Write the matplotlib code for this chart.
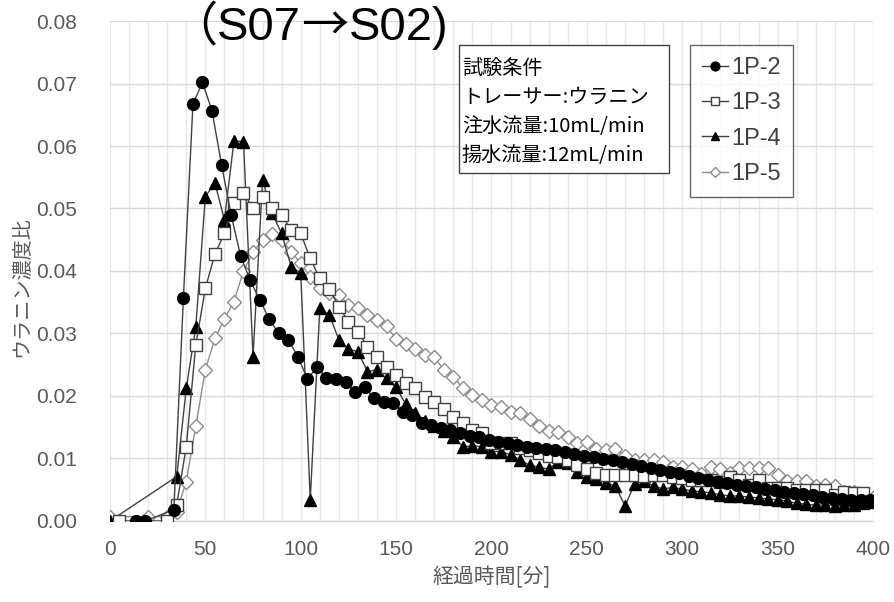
import numpy as np
import matplotlib
matplotlib.use('Agg')
import matplotlib.pyplot as plt
from matplotlib.ticker import MultipleLocator
from matplotlib.patches import Rectangle
from matplotlib.offsetbox import TextArea, HPacker, AnnotationBbox

# 1P-2
t_p2 = [13.5, 18.5, 33.5, 38.5, 43.5, 48.5, 53.5, 58.5, 63.5, 68.5, 73.5, 78.5, 83.5, 88.5,
        93.5, 98.5, 103.5, 108.5, 113.5, 118.5, 123.5, 128.5, 133.5, 138.5, 143.5, 148.5,
        153.5, 158.5, 163.5, 168.5, 173.5, 178.5, 183.5, 188.5, 193.5, 198.5, 203.5, 208.5,
        213.5, 218.5, 223.5, 228.5, 233.5, 238.5, 243.5, 248.5, 253.5, 258.5, 263.5, 268.5,
        273.5, 278.5, 283.5, 288.5, 293.5, 298.5, 303.5, 308.5, 313.5, 318.5, 323.5, 328.5,
        333.5, 338.5, 343.5, 348.5, 353.5, 358.5, 363.5, 368.5, 373.5, 378.5, 383.5, 388.5,
        393.5, 398.5]
v_p2 = [0.0, 0.0, 0.0018, 0.0357, 0.0667, 0.0702, 0.0656, 0.0570, 0.0490, 0.0424, 0.0385,
        0.0354, 0.0323, 0.0300, 0.0290, 0.0263, 0.0227, 0.0246, 0.0229, 0.0227, 0.0223,
        0.0207, 0.0215, 0.0196, 0.0191, 0.0188, 0.0175, 0.0170, 0.0156, 0.0154, 0.0148,
        0.0146, 0.0141, 0.0136, 0.0134, 0.0129, 0.0127, 0.0124, 0.0122, 0.0119, 0.0117,
        0.0115, 0.0113, 0.0110, 0.0107, 0.0104, 0.0102, 0.0099, 0.0097, 0.0094, 0.0091,
        0.0088, 0.0085, 0.0082, 0.0079, 0.0076, 0.0072, 0.0069, 0.0066, 0.0063, 0.0061,
        0.0058, 0.0056, 0.0054, 0.0051, 0.0049, 0.0047, 0.0045, 0.0043, 0.0041, 0.0039,
        0.0037, 0.0035, 0.0034, 0.0033, 0.0033]

# 1P-3
t_p3 = [5, 30, 35, 40, 45, 50, 55, 60, 65, 70, 75, 80, 85, 90, 95, 100, 105, 110, 115, 120,
        125, 130, 135, 140, 145, 150, 155, 160, 165, 170, 175, 180, 185, 190, 195, 200, 205,
        210, 215, 220, 225, 230, 235, 240, 245, 250, 255, 260, 265, 270, 275, 280, 285, 290,
        295, 300, 305, 310, 315, 320, 325, 330, 335, 340, 345, 350, 355, 360, 365, 370, 375,
        380, 385, 390, 395]
v_p3 = [0.0, 0.0, 0.0026, 0.0119, 0.0282, 0.0372, 0.0427, 0.0460, 0.0509, 0.0524, 0.0501,
        0.0519, 0.0501, 0.0490, 0.0465, 0.0460, 0.0420, 0.0388, 0.0371, 0.0343, 0.0319,
        0.0303, 0.0279, 0.0263, 0.0246, 0.0234, 0.0220, 0.0212, 0.0199, 0.0191, 0.0179,
        0.0167, 0.0156, 0.0146, 0.0140, 0.0124, 0.0124, 0.0124, 0.0116, 0.0114, 0.0108,
        0.0104, 0.0102, 0.0098, 0.0090, 0.0083, 0.0077, 0.0074, 0.0074, 0.0074, 0.0074,
        0.0072, 0.0074, 0.0074, 0.0070, 0.0068, 0.0066, 0.0066, 0.0066, 0.0063, 0.0071,
        0.0065, 0.0058, 0.0066, 0.0052, 0.0052, 0.0052, 0.0050, 0.0050, 0.0050, 0.0050,
        0.0042, 0.0046, 0.0045, 0.0045]

# 1P-4
t_p4 = [0, 35, 40, 45, 50, 55, 60, 65, 70, 75, 80, 85, 90, 95, 100, 105, 110, 115, 120, 125,
        130, 135, 140, 145, 150, 155, 160, 165, 170, 175, 180, 185, 190, 195, 200, 205, 210,
        215, 220, 225, 230, 235, 240, 245, 250, 255, 260, 265, 270, 275, 280, 285, 290, 295,
        300, 305, 310, 315, 320, 325, 330, 335, 340, 345, 350, 355, 360, 365, 370, 375, 380,
        385, 390, 395, 400]
v_p4 = [0.0, 0.0071, 0.0212, 0.0311, 0.0519, 0.0541, 0.0482, 0.0608, 0.0607, 0.0263, 0.0546,
        0.0492, 0.0460, 0.0407, 0.0397, 0.0034, 0.0340, 0.0330, 0.0290, 0.0275, 0.0271,
        0.0239, 0.0242, 0.0228, 0.0214, 0.0187, 0.0172, 0.0160, 0.0152, 0.0144, 0.0135,
        0.0119, 0.0120, 0.0119, 0.0111, 0.0111, 0.0106, 0.0098, 0.0089, 0.0086, 0.0083,
        0.0095, 0.0093, 0.0079, 0.0071, 0.0067, 0.0061, 0.0056, 0.0024, 0.0059, 0.0064,
        0.0056, 0.0051, 0.0054, 0.0051, 0.0048, 0.0047, 0.0045, 0.0042, 0.0040, 0.0040,
        0.0038, 0.0037, 0.0035, 0.0034, 0.0032, 0.0028, 0.0027, 0.0025, 0.0026, 0.0024,
        0.0025, 0.0025, 0.0028, 0.0030]

# 1P-5
t_p5 = [0, 20, 30, 35, 40, 45, 50, 55, 60, 65, 70, 75, 80, 85, 90, 95, 100, 105, 110, 115,
        120, 125, 130, 135, 140, 145, 150, 155, 160, 165, 170, 175, 180, 185, 190, 195, 200,
        205, 210, 215, 220, 225, 230, 235, 240, 245, 250, 255, 260, 265, 270, 275, 280, 285,
        290, 295, 300, 305, 310, 315, 320, 325, 330, 335, 340, 345, 350, 355, 360, 365, 370,
        375, 380, 385, 390, 395, 400]
v_p5 = [0.0007, 0.0007, 0.0007, 0.0015, 0.0063, 0.0152, 0.0242, 0.0292, 0.0323, 0.0351,
        0.0400, 0.0430, 0.0450, 0.0459, 0.0450, 0.0431, 0.0412, 0.0391, 0.0372, 0.0364,
        0.0362, 0.0346, 0.0340, 0.0330, 0.0322, 0.0312, 0.0291, 0.0283, 0.0275, 0.0265,
        0.0262, 0.0242, 0.0231, 0.0212, 0.0202, 0.0194, 0.0186, 0.0183, 0.0175, 0.0172,
        0.0163, 0.0152, 0.0144, 0.0143, 0.0134, 0.0125, 0.0127, 0.0115, 0.0114, 0.0115,
        0.0104, 0.0097, 0.0097, 0.0097, 0.0095, 0.0086, 0.0086, 0.0083, 0.0075, 0.0086,
        0.0083, 0.0076, 0.0084, 0.0084, 0.0084, 0.0084, 0.0074, 0.0064, 0.0064, 0.0064,
        0.0056, 0.0057, 0.0056, 0.0047, 0.0046, 0.0036, 0.0036]

cjk = ['Noto Sans CJK JP', 'DejaVu Sans']
narrow = ['Liberation Sans Narrow', 'Liberation Sans', 'DejaVu Sans']
grey = '#595959'

fig = plt.figure(figsize=(8.94, 6.02), dpi=100)
ax = fig.add_axes([0.123, 0.1346, 0.8535, 0.8305])

ax.plot(t_p5, v_p5, color='#8c8c8c', lw=1, marker='D', ms=7, mfc='white', mec='#8c8c8c',
        mew=1, label='1P-5', zorder=2)
ax.plot(t_p4, v_p4, color='#404040', lw=1, marker='^', ms=8, mfc='black', mec='black',
        label='1P-4', zorder=3)
ax.plot(t_p3, v_p3, color='#404040', lw=1, marker='s', ms=8.5, mfc='white', mec='#404040',
        mew=1, label='1P-3', zorder=4)
ax.plot(t_p2, v_p2, color='#404040', lw=1, marker='o', ms=8.5, mfc='black', mec='black',
        label='1P-2', zorder=5)

ax.set_xlim(0, 400)
ax.set_ylim(0, 0.08)
ax.xaxis.set_major_locator(MultipleLocator(50))
ax.xaxis.set_minor_locator(MultipleLocator(10))
ax.yaxis.set_major_locator(MultipleLocator(0.01))
ax.yaxis.set_major_formatter(matplotlib.ticker.FormatStrFormatter('%.2f'))
ax.grid(True, which='major', axis='y', color='#d9d9d9', lw=1)
ax.grid(True, which='both', axis='x', color='#e8e8e8', lw=1)
ax.set_axisbelow(True)
for s in ['top', 'right', 'left']:
    ax.spines[s].set_visible(False)
ax.spines['bottom'].set_color('#d0d0d0')
ax.tick_params(which='both', length=0)
ax.tick_params(axis='x', pad=14)
ax.tick_params(axis='y', pad=24)
for lab in ax.get_xticklabels() + ax.get_yticklabels():
    lab.set_fontfamily(narrow)
    lab.set_fontsize(15)
    lab.set_color(grey)

ax.set_xlabel('経過時間[分]', fontfamily=cjk, fontsize=15, color=grey)
ax.xaxis.set_label_coords(0.5, -0.09)
ax.set_ylabel('ウラニン濃度比', fontfamily=cjk, fontsize=14.5, color=grey)
ax.yaxis.set_label_coords(-0.102, 0.468)

# title: Arial-like latin, full-width paren and arrow from the CJK font
tprops = dict(fontsize=34, color='black')
parts = [TextArea('（', textprops=dict(family=['Noto Sans CJK JP'], **tprops)),
         TextArea('S07', textprops=dict(family=['Liberation Sans'], **tprops)),
         TextArea('→', textprops=dict(family=['Noto Sans CJK JP'], **tprops)),
         TextArea('S02)', textprops=dict(family=['Liberation Sans'], **tprops))]
title = HPacker(children=parts, sep=0, pad=0, align='baseline')
ab = AnnotationBbox(title, (170, 602 - 27), xycoords='figure pixels',
                    box_alignment=(0, 0.5), frameon=False, pad=0)
fig.add_artist(ab)

# test-condition box
ax.add_patch(Rectangle((0.4574, 0.696), 0.2752, 0.256, transform=ax.transAxes,
                       fc='white', ec='#404040', lw=1, zorder=6))
ax.text(0.4613, 0.819,
        '試験条件\nトレーサー:ウラニン\n注水流量:10mL/min\n揚水流量:12mL/min',
        transform=ax.transAxes, fontfamily=cjk, fontsize=14.5, color='black',
        ha='left', va='center', linespacing=1.5, zorder=7)

h, l = ax.get_legend_handles_labels()
leg = ax.legend(h[::-1], l[::-1], loc='upper left', bbox_to_anchor=(0.760, 0.952),
                borderaxespad=0, frameon=True, fancybox=False, edgecolor='#404040',
                handlelength=1.1, handletextpad=0.15, labelspacing=0.57, borderpad=0.5,
                prop={'family': narrow, 'size': 17}, markerscale=0.75)
leg.get_frame().set_linewidth(1)
leg.set_zorder(8)
for t in leg.get_texts():
    t.set_color('#404040')

fig.savefig('out.png', dpi=100)
